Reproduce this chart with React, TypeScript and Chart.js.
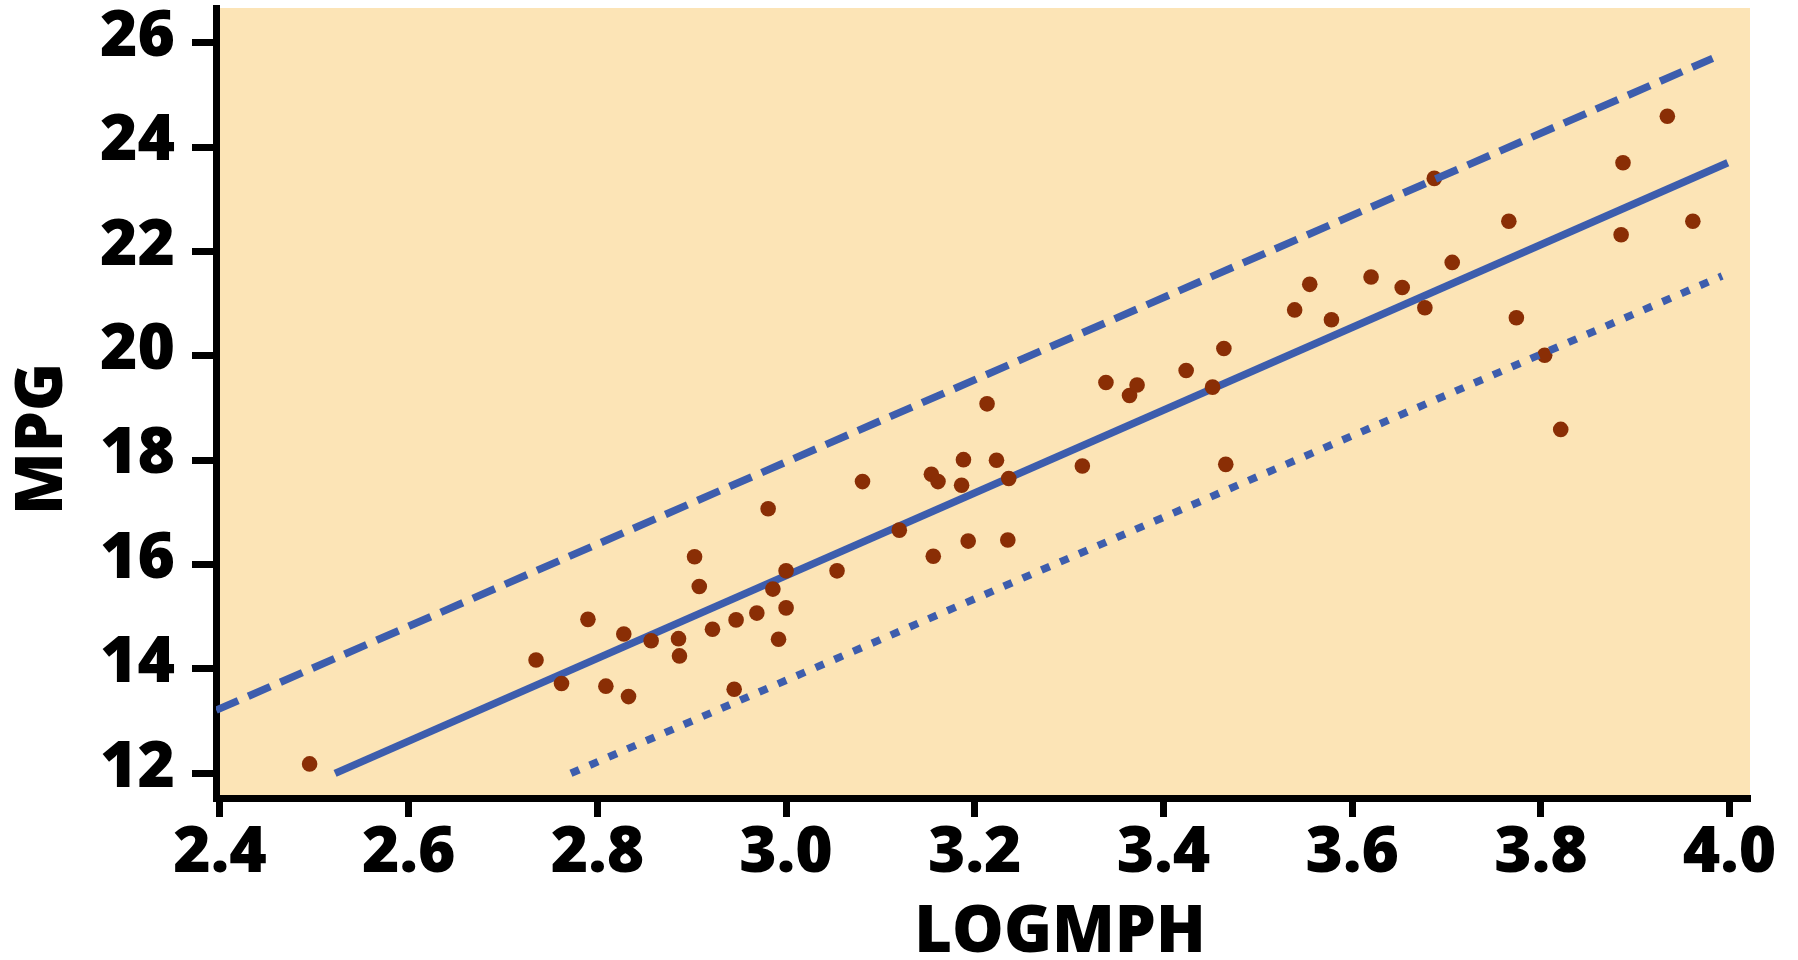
import React, { useEffect, useRef } from 'react';
import { Chart, registerables } from 'chart.js';

Chart.register(...registerables);

// ---- data ----
const logMph = [
  2.495, 2.735, 2.762, 2.79, 2.809, 2.828, 2.833, 2.857, 2.886, 2.887,
  2.903, 2.908, 2.922, 2.945, 2.947, 2.969, 2.981, 2.986, 2.992, 3.0,
  3.0, 3.054, 3.081, 3.12, 3.154, 3.156, 3.161, 3.188, 3.186, 3.193,
  3.213, 3.223, 3.236, 3.235, 3.314, 3.339, 3.364, 3.372, 3.424, 3.452,
  3.464, 3.466, 3.539, 3.555, 3.578, 3.62, 3.653, 3.677, 3.687, 3.706,
  3.766, 3.774, 3.804, 3.821, 3.887, 3.885, 3.934, 3.961,
];
const mpg = [
  12.18, 14.17, 13.72, 14.95, 13.67, 14.67, 13.47, 14.54, 14.58, 14.25,
  16.15, 15.58, 14.76, 13.61, 14.94, 15.07, 17.07, 15.53, 14.57, 15.88,
  15.17, 15.88, 17.59, 16.66, 17.73, 16.16, 17.59, 18.01, 17.52, 16.45,
  19.08, 18.0, 17.65, 16.47, 17.89, 19.49, 19.24, 19.44, 19.72, 19.4,
  20.14, 17.92, 20.88, 21.37, 20.69, 21.51, 21.31, 20.92, 23.4, 21.79,
  22.58, 20.73, 20.01, 18.59, 23.7, 22.32, 24.59, 22.58,
];

const fitX = [2.522, 3.998];
const fitY = [12.0, 23.7];
const upperX = [2.396, 3.982];
const upperY = [13.21, 25.7];
const lowerX = [2.772, 3.992];
const lowerY = [12.0, 21.53];

const xTicks = [2.4, 2.6, 2.8, 3.0, 3.2, 3.4, 3.6, 3.8, 4.0];
const xTickLabels = ['2.4', '2.6', '2.8', '3.0', '3.2', '3.4', '3.6', '3.8', '4.0'];
const yTicks = [12, 14, 16, 18, 20, 22, 24, 26];
const yTickLabels = ['12', '14', '16', '18', '20', '22', '24', '26'];

const xTitle = 'LOGMPH';
const yTitle = 'MPG';

// ---- styles ----
const FONT = "'Open Sans', 'Liberation Sans', sans-serif";
const BG = '#FCE4B6';
const DOT = '#8A2E05';
const BLUE = '#3D5DAD';

const toPts = (xs: number[], ys: number[]) => xs.map((x, i) => ({ x, y: ys[i] }));

const plotBg = {
  id: 'plotBg',
  beforeDraw(chart: any) {
    const { ctx, chartArea } = chart;
    ctx.save();
    ctx.fillStyle = BG;
    ctx.fillRect(chartArea.left, chartArea.top, chartArea.right - chartArea.left, chartArea.bottom - chartArea.top);
    ctx.restore();
  },
};

const axisTitles = {
  id: 'axisTitles',
  afterDraw(chart: any) {
    const { ctx } = chart;
    ctx.save();
    ctx.fillStyle = '#000';
    ctx.font = `800 65px ${FONT}`;
    ctx.textAlign = 'center';
    ctx.textBaseline = 'alphabetic';
    ctx.fillText(xTitle, 1060, 952);
    ctx.translate(62, 439);
    ctx.rotate(-Math.PI / 2);
    ctx.fillText(yTitle, 0, 0);
    ctx.restore();
  },
};

export default function App() {
  const ref = useRef<HTMLCanvasElement | null>(null);

  useEffect(() => {
    if (!ref.current) return;
    const chart = new Chart(ref.current, {
      type: 'scatter',
      data: {
        datasets: [
          {
            label: 'fit',
            data: toPts(fitX, fitY),
            showLine: true,
            borderColor: BLUE,
            borderWidth: 7.5,
            borderCapStyle: 'butt',
            pointRadius: 0,
            order: 3,
          } as any,
          {
            label: 'data',
            data: toPts(logMph, mpg),
            backgroundColor: DOT,
            borderWidth: 0,
            pointRadius: 7.8,
            showLine: false,
            order: 2,
          } as any,
          {
            label: 'upper',
            data: toPts(upperX, upperY),
            showLine: true,
            borderColor: BLUE,
            borderWidth: 7.5,
            borderDash: [24, 11],
            borderCapStyle: 'butt',
            pointRadius: 0,
            order: 1,
          } as any,
          {
            label: 'lower',
            data: toPts(lowerX, lowerY),
            showLine: true,
            borderColor: BLUE,
            borderWidth: 7.5,
            borderDash: [9, 11.5],
            borderCapStyle: 'butt',
            pointRadius: 0,
            order: 1,
          } as any,
        ],
      },
      options: {
        responsive: false,
        animation: false,
        events: [],
        layout: { padding: { top: 8, right: 48, left: 0, bottom: 0 } },
        plugins: {
          legend: { display: false },
          tooltip: { enabled: false },
          title: { display: false },
        },
        scales: {
          x: {
            type: 'linear',
            min: 2.3958,
            max: 4.0216,
            afterBuildTicks: (scale: any) => {
              scale.ticks = xTicks.map((v) => ({ value: v }));
            },
            afterFit: (scale: any) => {
              scale.height = 162;
              scale.paddingLeft = 0;
              scale.paddingRight = 0;
            },
            ticks: {
              autoSkip: false,
              maxRotation: 0,
              minRotation: 0,
              padding: 0,
              color: '#000',
              font: { family: FONT, size: 64, weight: 800, lineHeight: 1.15 },
              callback: (v: any) => xTickLabels[xTicks.findIndex((t) => Math.abs(t - v) < 1e-6)],
            },
            grid: {
              display: true,
              drawOnChartArea: false,
              drawTicks: true,
              tickLength: 19,
              tickWidth: 7,
              tickColor: '#000',
              color: '#000',
            },
            border: { display: true, color: '#000', width: 7 },
          },
          y: {
            type: 'linear',
            min: 11.527,
            max: 26.665,
            afterBuildTicks: (scale: any) => {
              scale.ticks = yTicks.map((v) => ({ value: v }));
            },
            afterFit: (scale: any) => {
              scale.width = 216;
              scale.paddingTop = 0;
              scale.paddingBottom = 0;
            },
            ticks: {
              autoSkip: false,
              padding: 17,
              labelOffset: -5,
              color: '#000',
              font: { family: FONT, size: 64, weight: 800, lineHeight: 1.15 },
              callback: (v: any) => yTickLabels[yTicks.findIndex((t) => Math.abs(t - v) < 1e-6)],
            },
            grid: {
              display: true,
              drawOnChartArea: false,
              drawTicks: true,
              tickLength: 24,
              tickWidth: 7,
              tickColor: '#000',
              color: '#000',
            },
            border: { display: true, color: '#000', width: 7 },
          },
        },
      } as any,
      plugins: [plotBg, axisTitles],
    });
    return () => chart.destroy();
  }, []);

  return (
    <div style={{ position: 'absolute', left: 0, top: 0, width: 1798, height: 960, background: '#fff' }}>
      <canvas ref={ref} width={1798} height={960} style={{ display: 'block', width: 1798, height: 960 }} />
    </div>
  );
}
